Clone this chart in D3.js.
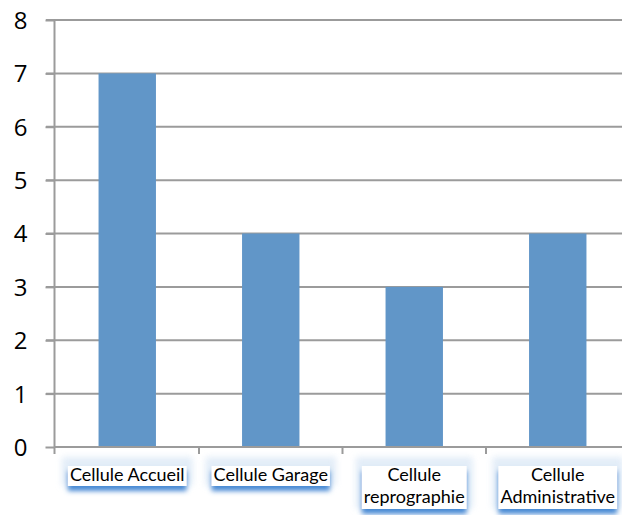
<!DOCTYPE html>
<html><head><meta charset="utf-8">
<script src="https://cdn.jsdelivr.net/npm/d3@7"></script>
<style>html,body{margin:0;padding:0;background:#fff;}svg{display:block;}</style>
</head><body>
<script>
const categories = ["Cellule Accueil", "Cellule Garage", "Cellule reprographie", "Cellule Administrative"];
const labelLines = [["Cellule Accueil"], ["Cellule Garage"], ["Cellule", "reprographie"], ["Cellule", "Administrative"]];
const values = [7, 4, 3, 4];
const yTicks = [0, 1, 2, 3, 4, 5, 6, 7, 8];

const W = 622, H = 515;
const svg = d3.select("body").append("svg").attr("width", W).attr("height", H);

const defs = svg.append("defs");
const f = defs.append("filter").attr("id", "glow").attr("x", "-20%").attr("y", "-40%").attr("width", "140%").attr("height", "200%");
f.append("feDropShadow").attr("dx", 0).attr("dy", 5).attr("stdDeviation", 2.5).attr("flood-color", "#4a8ad4").attr("flood-opacity", 1);
const f2 = defs.append("filter").attr("id", "halo").attr("x", "-20%").attr("y", "-60%").attr("width", "140%").attr("height", "220%");
f2.append("feGaussianBlur").attr("stdDeviation", 3);

const x = d3.scaleBand().domain(categories).range([55.5, 629.5]).paddingInner(0).paddingOuter(0);
const y = d3.scaleLinear().domain([0, 8]).range([447, 20]);

// gridlines
svg.append("g").selectAll("line").data(yTicks.filter(d => d > 0)).join("line")
  .attr("x1", 46).attr("x2", W).attr("y1", d => y(d)).attr("y2", d => y(d))
  .attr("stroke", "#9b9b9b").attr("stroke-width", 2);

// y axis
const yAxis = d3.axisLeft(y).tickValues(yTicks).tickSize(9).tickFormat(d3.format("d"));
const gy = svg.append("g").attr("transform", "translate(54.5,0)").call(yAxis);
gy.select(".domain").attr("stroke", "#9b9b9b").attr("stroke-width", 2).attr("d", `M0,${y(8)}V${y(0)}`);
gy.selectAll(".tick line").attr("stroke", "#9b9b9b").attr("stroke-width", 2);
gy.selectAll(".tick text").attr("x", -27).attr("dy", "0.35em")
  .attr("font-family", "Open Sans").attr("font-size", 24).attr("fill", "#000");

// bars
const bw = x.bandwidth() * 0.4;
svg.append("g").selectAll("rect").data(values).join("rect")
  .attr("x", (d, i) => x(categories[i]) + x.bandwidth() / 2 - bw / 2)
  .attr("width", bw)
  .attr("y", d => y(d)).attr("height", d => y(0) - y(d))
  .attr("fill", "#6196c8");

// x axis
const xAxis = d3.axisBottom(x).tickSize(0).tickFormat("");
const gx = svg.append("g").attr("transform", `translate(0,${y(0)})`).call(xAxis);
gx.select(".domain").attr("stroke", "#9b9b9b").attr("stroke-width", 2).attr("d", `M54.5,0H${W}`);
gx.selectAll(".tick").remove();
const bounds = categories.map(c => x(c)).concat([x(categories[3]) + x.bandwidth()]);
svg.append("g").selectAll("line").data(bounds.slice(1, 4)).join("line")
  .attr("x1", d => d).attr("x2", d => d).attr("y1", y(0)).attr("y2", y(0) + 7)
  .attr("stroke", "#9b9b9b").attr("stroke-width", 2);
svg.append("line").attr("x1", 54.5).attr("x2", 54.5).attr("y1", y(0)).attr("y2", y(0) + 7)
  .attr("stroke", "#9b9b9b").attr("stroke-width", 2);

// category labels with glowing boxes
const lblG = svg.append("g");
labelLines.forEach((lines, i) => {
  const cx = x(categories[i]) + x.bandwidth() / 2;
  const g = lblG.append("g");
  const texts = lines.map((t, j) => g.append("text").attr("x", cx).attr("y", 481 + j * 22)
    .attr("text-anchor", "middle").attr("font-family", "Lato").attr("font-size", 18).attr("fill", "#000").text(t));
  let maxW = 0;
  texts.forEach(t => { maxW = Math.max(maxW, t.node().getComputedTextLength()); });
  const top = 466, bottom = lines.length === 1 ? 486 : 509;
  const bx = cx - maxW / 2 - 2, bwid = maxW + 4;
  g.insert("rect", "text").attr("x", bx - 6).attr("y", top - 9).attr("width", bwid + 12).attr("height", bottom - top + 9)
    .attr("fill", "#dbe8f6").attr("filter", "url(#halo)").attr("opacity", 0.8);
  g.insert("rect", "text").attr("x", bx).attr("y", top).attr("width", bwid).attr("height", bottom - top)
    .attr("fill", "#fff").attr("filter", "url(#glow)");
});
</script>
</body></html>
